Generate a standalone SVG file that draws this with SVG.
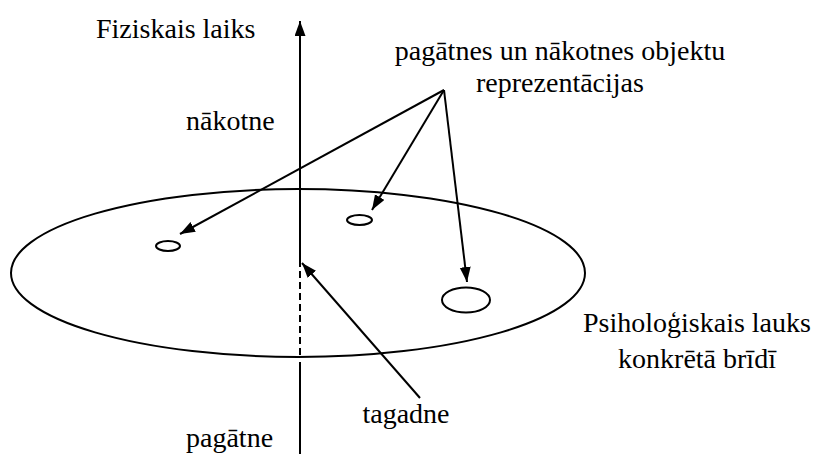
<svg xmlns="http://www.w3.org/2000/svg" width="829" height="454" viewBox="0 0 829 454">
<style>
.t{font-family:"Liberation Serif","Times New Roman",serif;font-size:28px;fill:#000}
.s{fill:none;stroke:#000;stroke-width:2}
.c{text-anchor:middle}
</style>
<defs>
<marker id="ah" markerUnits="userSpaceOnUse" markerWidth="16" markerHeight="12" refX="15" refY="5.5" orient="auto">
<path d="M0,0 L15,5.5 L0,11 z" fill="#000"/>
</marker>
</defs>
<rect width="829" height="454" fill="#fff"/>
<g id="field">
<ellipse class="s" cx="298" cy="273" rx="287" ry="84"/>
</g>
<g id="obj1"><ellipse class="s" cx="168" cy="246" rx="12" ry="5"/></g>
<g id="obj2"><ellipse class="s" cx="359.5" cy="220" rx="12.5" ry="5"/></g>
<g id="obj3"><ellipse class="s" cx="466" cy="300" rx="24" ry="12.5"/></g>
<g id="axis">
<line class="s" x1="300" y1="454" x2="300" y2="362"/>
<line class="s" x1="300" y1="355" x2="300" y2="262" stroke-dasharray="7,4"/>
<line class="s" x1="300" y1="262" x2="300" y2="21" marker-end="url(#ah)"/>
</g>
<g id="connectors">
<line class="s" x1="444" y1="90" x2="180" y2="234" marker-end="url(#ah)"/>
<line class="s" x1="444" y1="90" x2="372" y2="210" marker-end="url(#ah)"/>
<line class="s" x1="444" y1="90" x2="467" y2="282" marker-end="url(#ah)"/>
<line class="s" x1="420" y1="398" x2="302" y2="263" marker-end="url(#ah)"/>
</g>
<g id="labels">
<text class="t" x="96" y="38">Fiziskais laiks</text>
<text class="t c" x="560" y="60">pagātnes un nākotnes objektu</text>
<text class="t c" x="560" y="92">reprezentācijas</text>
<text class="t" x="186" y="130">nākotne</text>
<text class="t c" x="406" y="423">tagadne</text>
<text class="t" x="186" y="447">pagātne</text>
<text class="t c" x="697" y="332">Psiholoģiskais lauks</text>
<text class="t c" x="697" y="368">konkrētā brīdī</text>
</g>
</svg>
